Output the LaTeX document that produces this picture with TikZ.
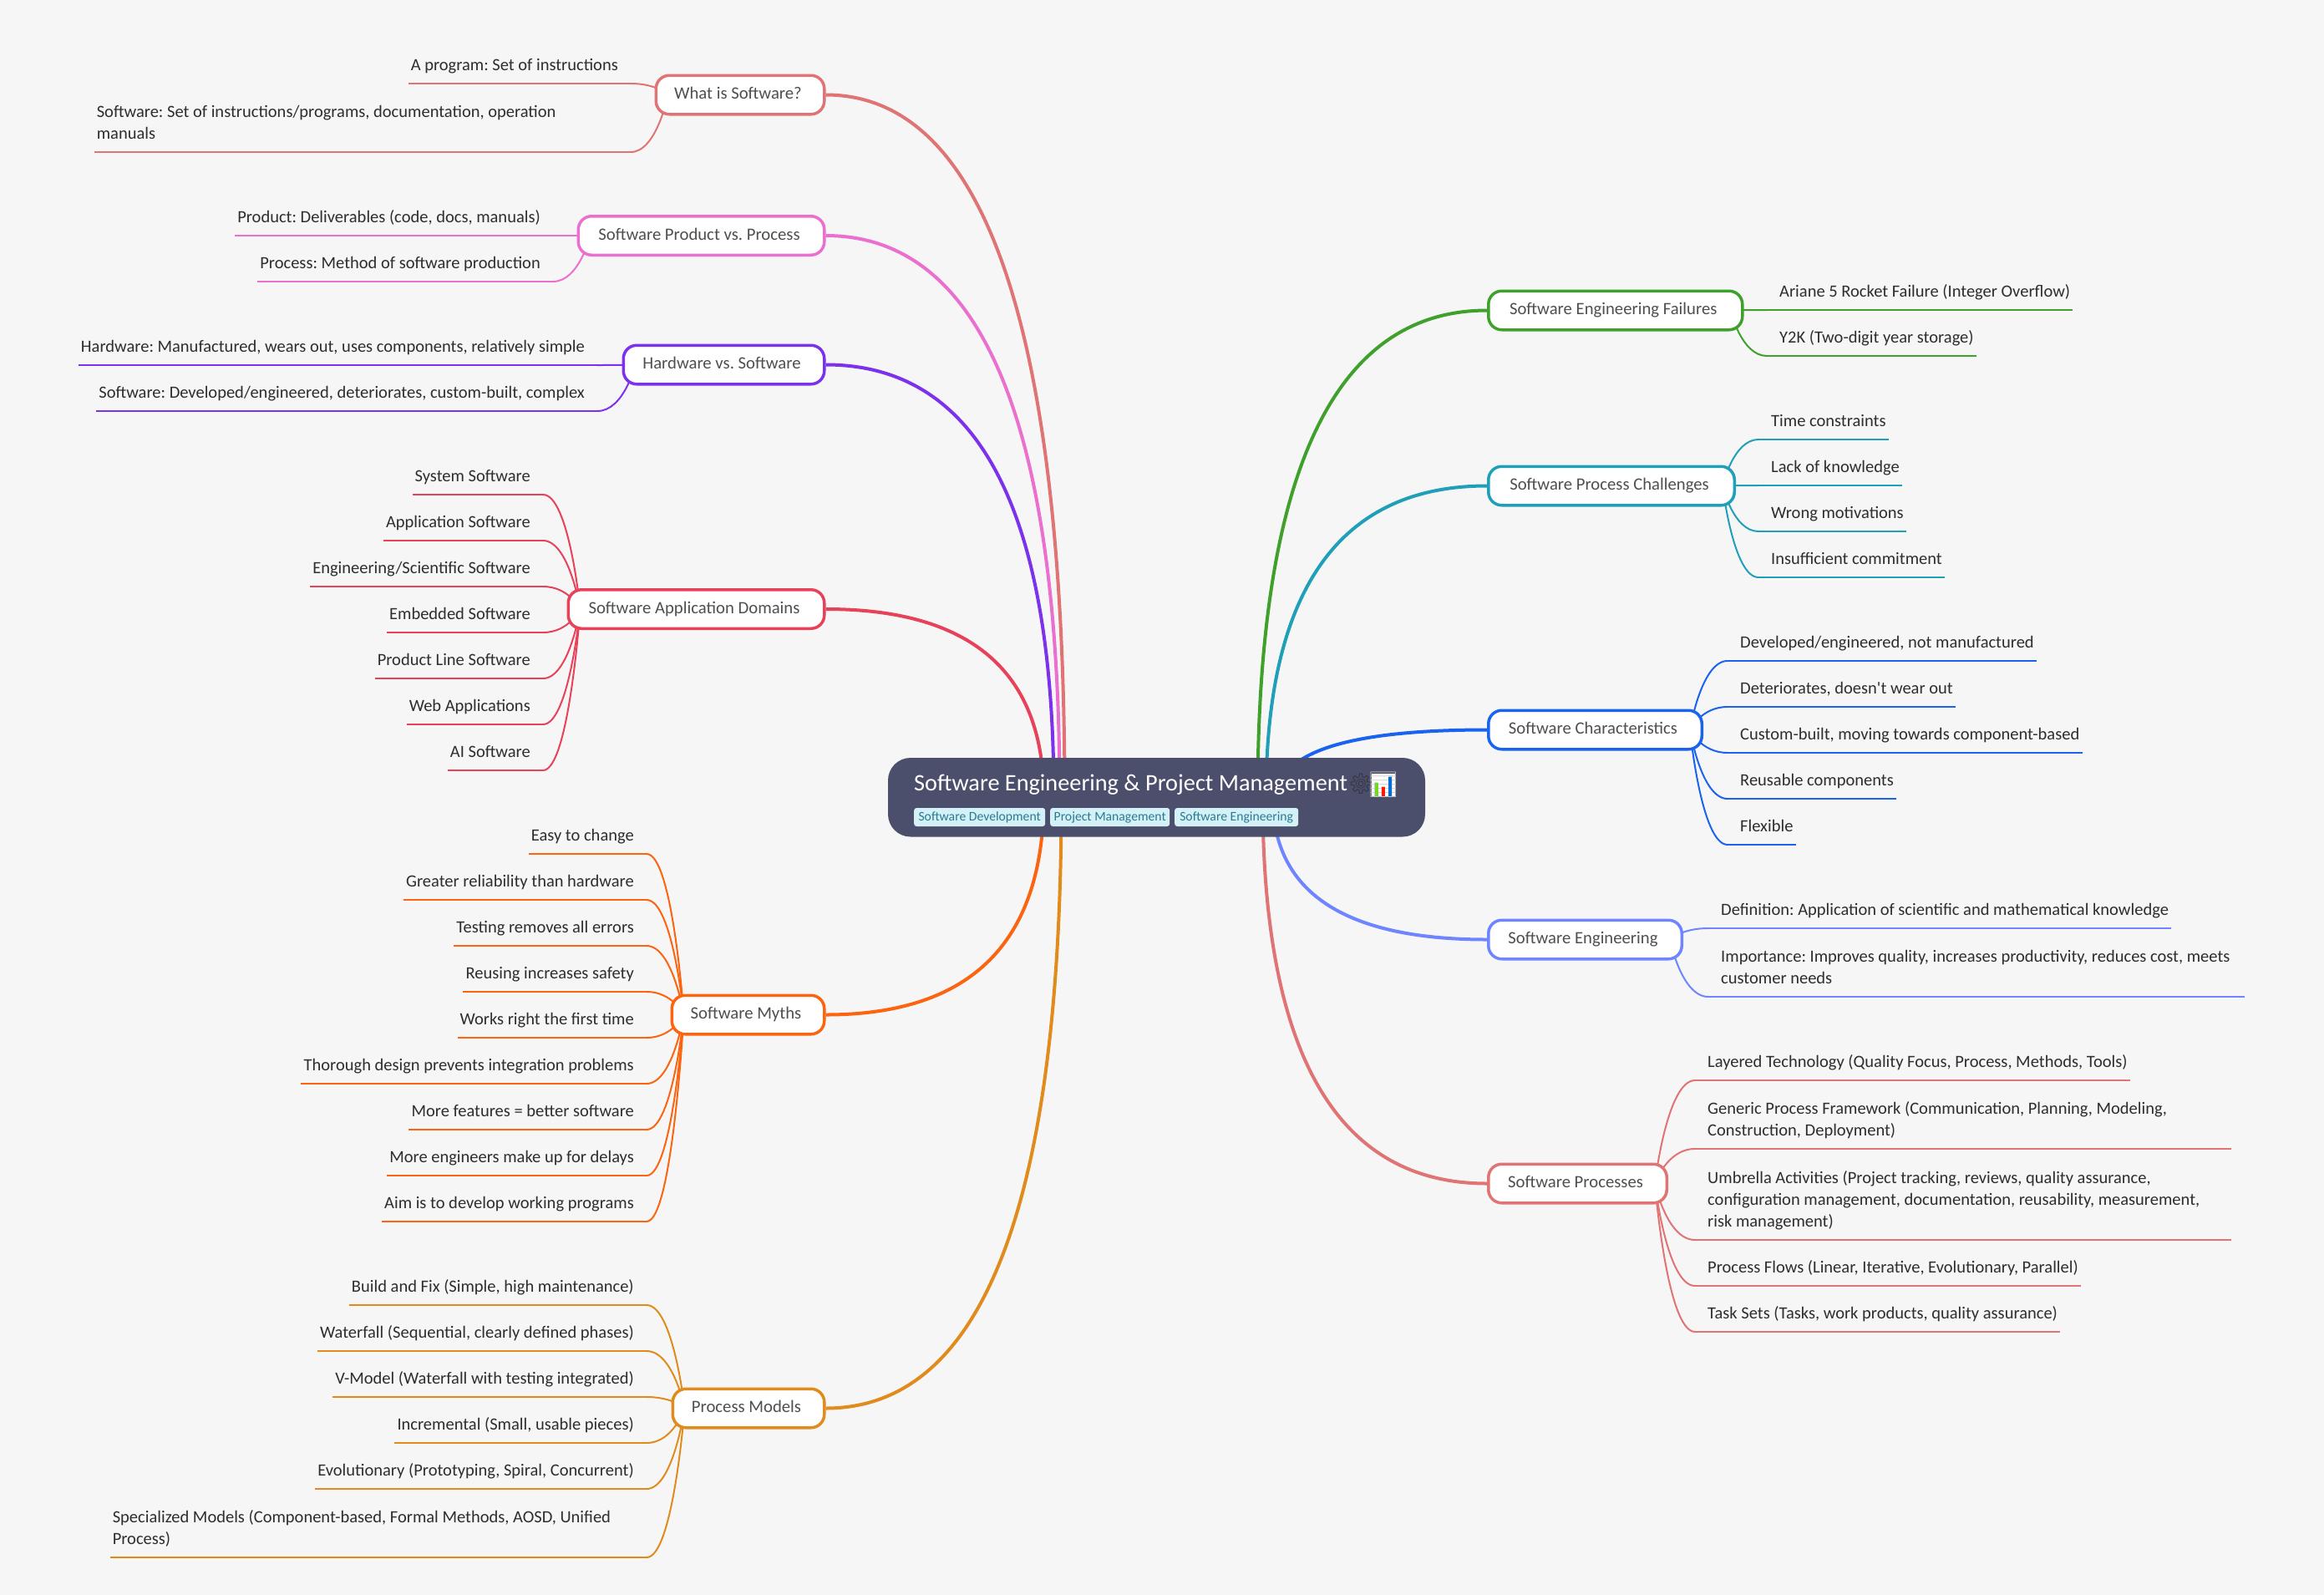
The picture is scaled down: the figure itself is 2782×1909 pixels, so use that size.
\documentclass[tikz,border=0pt]{standalone}
\usepackage{fontspec}
\setmainfont{Carlito}
\newfontfamily\emojifont{Noto Emoji}
\usetikzlibrary{backgrounds,calc}

\definecolor{bgcol}{HTML}{F6F6F6}
\definecolor{rootfill}{HTML}{4C4F6B}
\definecolor{tagfill}{HTML}{D5F1F8}
\definecolor{tagtext}{HTML}{2A7A8F}
\definecolor{topictext}{HTML}{4F4F4F}
\definecolor{leaftext}{HTML}{2E2E2E}
\definecolor{gearcol}{HTML}{32333C}
\definecolor{cWhat}{HTML}{E07474}
\definecolor{cProduct}{HTML}{EA6FCF}
\definecolor{cHardware}{HTML}{7C32EC}
\definecolor{cDomains}{HTML}{E8425A}
\definecolor{cMyths}{HTML}{FC640F}
\definecolor{cModels}{HTML}{E08B1C}
\definecolor{cFailures}{HTML}{3FA02C}
\definecolor{cChallenges}{HTML}{1FA0B8}
\definecolor{cTraits}{HTML}{1A63EE}
\definecolor{cEngineering}{HTML}{6F85FF}
\definecolor{cProcesses}{HTML}{E07474}

\tikzset{
  rootnode/.style={fill=rootfill,rounded corners=27pt,minimum width=643pt,minimum height=94.5pt},
  roottext/.style={text=white,font=\frenchspacing\fontsize{28.3}{32}\selectfont,inner sep=0pt},
  tagnode/.style={fill=tagfill,text=tagtext,rounded corners=3pt,inner sep=0pt,minimum height=22pt,
    font=\fontsize{15.7}{18}\selectfont},
  topicnode/.style={draw=#1,fill=white,text=topictext,line width=3.5pt,rounded corners=16pt,
    minimum height=46.5pt,inner sep=0pt,text height=14pt,text depth=4pt,
    font=\frenchspacing\fontsize{20.7}{26}\selectfont,execute at end node=\hspace*{5pt}},
  leafnode/.style={text=leaftext,inner xsep=3pt,inner ysep=7.2pt,
    font=\frenchspacing\fontsize{20.5}{26}\selectfont,
    execute at begin node=\strut,execute at end node=\strut},
  wideleaf/.style={leafnode,text width=624pt,align=flush left},
  rootline/.style={line width=4pt},
  leaflink/.style={line width=2pt},
  leafline/.style={line width=2.8pt}
}

% curve from the root to a topic
\newcommand{\rootlink}[2]{%
  \coordinate (s) at ([xshift=#1]root.center);
  \draw[rootline] (s) .. controls ($(s)!2/3!(s |- #2)$) and ($(#2)!2/3!(s |- #2)$) .. (#2);
}
% curve from a topic to a leaf, then the line under the leaf
\newcommand{\leftleaf}[2]{%
  \coordinate (s) at ([xshift=16pt]#1.west);
  \coordinate (e) at ([xshift=12pt]#2.south east);
  \draw[leaflink] (s) .. controls (s) and ($(s |- e)!.3!(e)$) .. (e);
  \draw[leafline] (e) -- (#2.south west);
}
\newcommand{\rightleaf}[2]{%
  \coordinate (s) at ([xshift=-16pt]#1.east);
  \coordinate (e) at ([xshift=-12pt]#2.south west);
  \draw[leaflink] (s) .. controls (s) and ($(s |- e)!.3!(e)$) .. (e);
  \draw[leafline] (e) -- (#2.south east);
}

\begin{document}
\begin{tikzpicture}[x=1pt,y=-1pt]
  \begin{scope}[on background layer]
    \fill[bgcol] (0,0) rectangle (2782,1909);
  \end{scope}
  \useasboundingbox (0,0) rectangle (2782,1909);

  % Root
  \node (root) [rootnode] at (1384.5,954.25) {};
  \node (roottitle) [roottext,anchor=base west] at (1094,946) {Software Engineering \& Project Management};
  \node (gear) [inner sep=0pt,text=gearcol,font=\fontsize{24}{28}\emojifont] at (1629,938) {⚙};
  \node (chart) [fill=white,anchor=north west,minimum width=28.5pt,minimum height=27.5pt,inner sep=0pt] at (1641.5,925.7) {};
  \node (chartglyph) [text=black!22,inner sep=0pt,font=\fontsize{30}{30}\emojifont] at (chart.center) {📊};
  \fill[green!55!gray!70!yellow] (1646,937.3) rectangle (1650,952.7);
  \fill[red!80!orange] (1654,941.7) rectangle (1658,952.7);
  \fill[blue!50!cyan!85!black] (1661.7,930) rectangle (1666,952.7);
  \node (tagDev) [tagnode,minimum width=157pt,anchor=west] at (1094,978) {Software Development};
  \node (tagMgmt) [tagnode,minimum width=143pt,anchor=west] at (1257,978) {Project Management};
  \node (tagEng) [tagnode,minimum width=148pt,anchor=west] at (1406,978) {Software Engineering};

  % Left topics
  \node (tWhat) [topicnode=cWhat,minimum width=201.5pt,anchor=east] at (988.5,113.5) {What is Software?};
  \node (tProduct) [topicnode=cProduct,minimum width=294.5pt,anchor=east] at (988.5,282) {Software Product vs. Process};
  \node (tHardware) [topicnode=cHardware,minimum width=240.5pt,anchor=east] at (988.5,436.5) {Hardware vs. Software};
  \node (tDomains) [topicnode=cDomains,minimum width=306.5pt,anchor=east] at (988.5,729) {Software Application Domains};
  \node (tMyths) [topicnode=cMyths,minimum width=182.5pt,anchor=east] at (988.5,1214.5) {Software Myths};
  \node (tModels) [topicnode=cModels,minimum width=181.5pt,anchor=east] at (988.5,1685.5) {Process Models};

  % Right topics
  \node (tFailures) [topicnode=cFailures,minimum width=304pt,anchor=west] at (1780,371.5) {Software Engineering Failures};
  \node (tChallenges) [topicnode=cChallenges,minimum width=294.5pt,anchor=west] at (1780,581.5) {Software Process Challenges};
  \node (tTraits) [topicnode=cTraits,minimum width=255.5pt,anchor=west] at (1780,873.5) {Software Characteristics};
  \node (tEngineering) [topicnode=cEngineering,minimum width=231.5pt,anchor=west] at (1780,1124.5) {Software Engineering};
  \node (tProcesses) [topicnode=cProcesses,minimum width=213.5pt,anchor=west] at (1780,1416.5) {Software Processes};

  % Left leaves
  \node (lWhatA) [leafnode,anchor=south east] at (743,100) {A program: Set of instructions};
  \node (lWhatB) [wideleaf,anchor=south east] at (743,182) {Software: Set of instructions/programs, documentation, operation\\manuals};
  \node (lProductA) [leafnode,anchor=south east] at (650,282) {Product: Deliverables (code, docs, manuals)};
  \node (lProductB) [leafnode,anchor=south east] at (650,337) {Process: Method of software production};
  \node (lHardwareA) [leafnode,anchor=south east] at (703,437) {Hardware: Manufactured, wears out, uses components, relatively simple};
  \node (lHardwareB) [leafnode,anchor=south east] at (703,492) {Software: Developed/engineered, deteriorates, custom-built, complex};
  \node (lDomainsA) [leafnode,anchor=south east] at (638,592) {System Software};
  \node (lDomainsB) [leafnode,anchor=south east] at (638,647) {Application Software};
  \node (lDomainsC) [leafnode,anchor=south east] at (638,702) {Engineering/Scientific Software};
  \node (lDomainsD) [leafnode,anchor=south east] at (638,757) {Embedded Software};
  \node (lDomainsE) [leafnode,anchor=south east] at (638,812) {Product Line Software};
  \node (lDomainsF) [leafnode,anchor=south east] at (638,867) {Web Applications};
  \node (lDomainsG) [leafnode,anchor=south east] at (638,922) {AI Software};
  \node (lMythsA) [leafnode,anchor=south east] at (762,1022) {Easy to change};
  \node (lMythsB) [leafnode,anchor=south east] at (762,1077) {Greater reliability than hardware};
  \node (lMythsC) [leafnode,anchor=south east] at (762,1132) {Testing removes all errors};
  \node (lMythsD) [leafnode,anchor=south east] at (762,1187) {Reusing increases safety};
  \node (lMythsE) [leafnode,anchor=south east] at (762,1242) {Works right the first time};
  \node (lMythsF) [leafnode,anchor=south east] at (762,1297) {Thorough design prevents integration problems};
  \node (lMythsG) [leafnode,anchor=south east] at (762,1352) {More features = better software};
  \node (lMythsH) [leafnode,anchor=south east] at (762,1407) {More engineers make up for delays};
  \node (lMythsI) [leafnode,anchor=south east] at (762,1462) {Aim is to develop working programs};
  \node (lModelsA) [leafnode,anchor=south east] at (762,1562) {Build and Fix (Simple, high maintenance)};
  \node (lModelsB) [leafnode,anchor=south east] at (762,1617) {Waterfall (Sequential, clearly defined phases)};
  \node (lModelsC) [leafnode,anchor=south east] at (762,1672) {V-Model (Waterfall with testing integrated)};
  \node (lModelsD) [leafnode,anchor=south east] at (762,1727) {Incremental (Small, usable pieces)};
  \node (lModelsE) [leafnode,anchor=south east] at (762,1782) {Evolutionary (Prototyping, Spiral, Concurrent)};
  \node (lModelsF) [wideleaf,anchor=south east] at (762,1864) {Specialized Models (Component-based, Formal Methods, AOSD, Unified\\Process)};

  % Right leaves
  \node (lFailuresA) [leafnode,anchor=south west] at (2127,371) {Ariane 5 Rocket Failure (Integer Overflow)};
  \node (lFailuresB) [leafnode,anchor=south west] at (2127,426) {Y2K (Two-digit year storage)};
  \node (lChallengesA) [leafnode,anchor=south west] at (2117,526) {Time constraints};
  \node (lChallengesB) [leafnode,anchor=south west] at (2117,581) {Lack of knowledge};
  \node (lChallengesC) [leafnode,anchor=south west] at (2117,636) {Wrong motivations};
  \node (lChallengesD) [leafnode,anchor=south west] at (2117,691) {Insufficient commitment};
  \node (lTraitsA) [leafnode,anchor=south west] at (2080,791) {Developed/engineered, not manufactured};
  \node (lTraitsB) [leafnode,anchor=south west] at (2080,846) {Deteriorates, doesn\textquotesingle t wear out};
  \node (lTraitsC) [leafnode,anchor=south west] at (2080,901) {Custom-built, moving towards component-based};
  \node (lTraitsD) [leafnode,anchor=south west] at (2080,956) {Reusable components};
  \node (lTraitsE) [leafnode,anchor=south west] at (2080,1011) {Flexible};
  \node (lEngineeringA) [leafnode,anchor=south west] at (2057,1111) {Definition: Application of scientific and mathematical knowledge};
  \node (lEngineeringB) [wideleaf,anchor=south west] at (2057,1193) {Importance: Improves quality, increases productivity, reduces cost, meets\\customer needs};
  \node (lProcessesA) [leafnode,anchor=south west] at (2041,1293) {Layered Technology (Quality Focus, Process, Methods, Tools)};
  \node (lProcessesB) [wideleaf,anchor=south west] at (2041,1375) {Generic Process Framework (Communication, Planning, Modeling,\\Construction, Deployment)};
  \node (lProcessesC) [wideleaf,anchor=south west] at (2041,1484) {Umbrella Activities (Project tracking, reviews, quality assurance,\\configuration management, documentation, reusability, measurement,\\risk management)};
  \node (lProcessesD) [leafnode,anchor=south west] at (2041,1539) {Process Flows (Linear, Iterative, Evolutionary, Parallel)};
  \node (lProcessesE) [leafnode,anchor=south west] at (2041,1594) {Task Sets (Tasks, work products, quality assurance)};

  % Connectors, behind the nodes
  \begin{scope}[on background layer]
    \begin{scope}[color=cWhat]
      \rootlink{-110pt}{tWhat.east}
      \leftleaf{tWhat}{lWhatA}
      \leftleaf{tWhat}{lWhatB}
    \end{scope}
    \begin{scope}[color=cProduct]
      \rootlink{-116pt}{tProduct.east}
      \leftleaf{tProduct}{lProductA}
      \leftleaf{tProduct}{lProductB}
    \end{scope}
    \begin{scope}[color=cHardware]
      \rootlink{-123pt}{tHardware.east}
      \leftleaf{tHardware}{lHardwareA}
      \leftleaf{tHardware}{lHardwareB}
    \end{scope}
    \begin{scope}[color=cDomains]
      \rootlink{-135pt}{tDomains.east}
      \leftleaf{tDomains}{lDomainsA}
      \leftleaf{tDomains}{lDomainsB}
      \leftleaf{tDomains}{lDomainsC}
      \leftleaf{tDomains}{lDomainsD}
      \leftleaf{tDomains}{lDomainsE}
      \leftleaf{tDomains}{lDomainsF}
      \leftleaf{tDomains}{lDomainsG}
    \end{scope}
    \begin{scope}[color=cMyths]
      \rootlink{-135pt}{tMyths.east}
      \leftleaf{tMyths}{lMythsA}
      \leftleaf{tMyths}{lMythsB}
      \leftleaf{tMyths}{lMythsC}
      \leftleaf{tMyths}{lMythsD}
      \leftleaf{tMyths}{lMythsE}
      \leftleaf{tMyths}{lMythsF}
      \leftleaf{tMyths}{lMythsG}
      \leftleaf{tMyths}{lMythsH}
      \leftleaf{tMyths}{lMythsI}
    \end{scope}
    \begin{scope}[color=cModels]
      \rootlink{-114pt}{tModels.east}
      \leftleaf{tModels}{lModelsA}
      \leftleaf{tModels}{lModelsB}
      \leftleaf{tModels}{lModelsC}
      \leftleaf{tModels}{lModelsD}
      \leftleaf{tModels}{lModelsE}
      \leftleaf{tModels}{lModelsF}
    \end{scope}
    \begin{scope}[color=cFailures]
      \rootlink{121pt}{tFailures.west}
      \rightleaf{tFailures}{lFailuresA}
      \rightleaf{tFailures}{lFailuresB}
    \end{scope}
    \begin{scope}[color=cChallenges]
      \rootlink{131pt}{tChallenges.west}
      \rightleaf{tChallenges}{lChallengesA}
      \rightleaf{tChallenges}{lChallengesB}
      \rightleaf{tChallenges}{lChallengesC}
      \rightleaf{tChallenges}{lChallengesD}
    \end{scope}
    \begin{scope}[color=cTraits]
      \rootlink{145pt}{tTraits.west}
      \rightleaf{tTraits}{lTraitsA}
      \rightleaf{tTraits}{lTraitsB}
      \rightleaf{tTraits}{lTraitsC}
      \rightleaf{tTraits}{lTraitsD}
      \rightleaf{tTraits}{lTraitsE}
    \end{scope}
    \begin{scope}[color=cEngineering]
      \rootlink{139pt}{tEngineering.west}
      \rightleaf{tEngineering}{lEngineeringA}
      \rightleaf{tEngineering}{lEngineeringB}
    \end{scope}
    \begin{scope}[color=cProcesses]
      \rootlink{127pt}{tProcesses.west}
      \rightleaf{tProcesses}{lProcessesA}
      \rightleaf{tProcesses}{lProcessesB}
      \rightleaf{tProcesses}{lProcessesC}
      \rightleaf{tProcesses}{lProcessesD}
      \rightleaf{tProcesses}{lProcessesE}
    \end{scope}
  \end{scope}
\end{tikzpicture}
\end{document}
